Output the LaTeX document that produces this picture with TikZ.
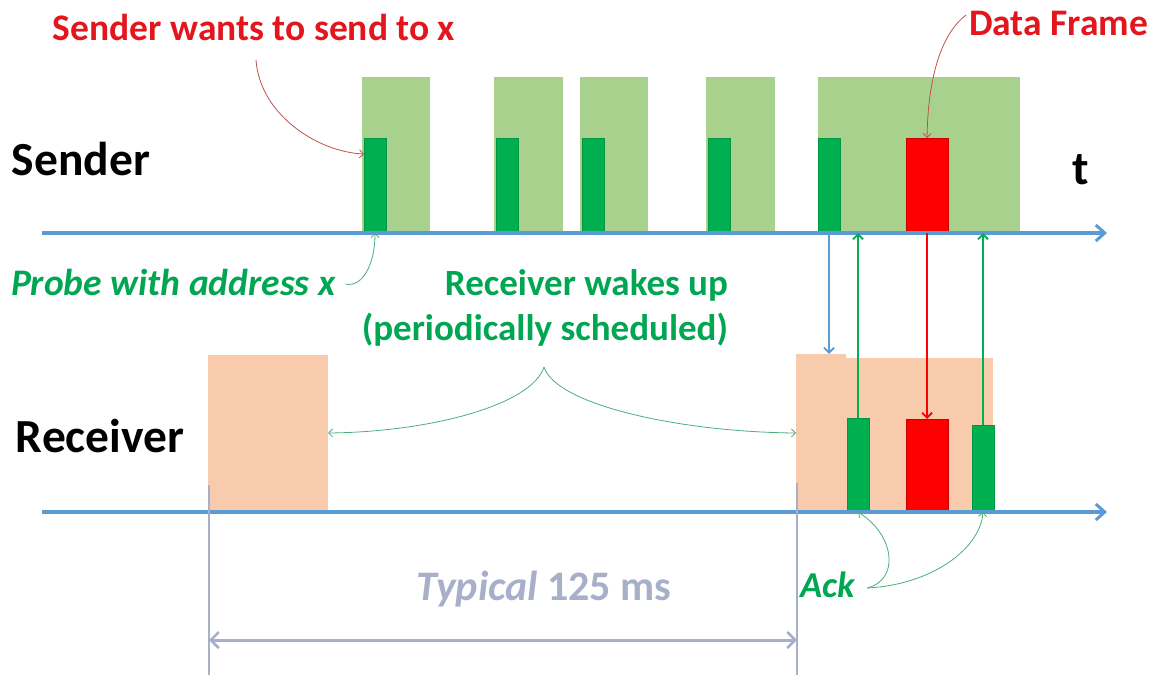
\documentclass[tikz,border=0pt]{standalone}
\usepackage{fontspec}
\setmainfont{Carlito}
\usetikzlibrary{arrows.meta,calc}
\definecolor{lgreen}{HTML}{A9D18E}
\definecolor{dgreen}{HTML}{00B050}
\definecolor{fred}{HTML}{FF0000}
\definecolor{peach}{HTML}{F8CBAD}
\definecolor{axisblue}{HTML}{5B9BD5}
\definecolor{txtred}{HTML}{E3161E}
\definecolor{txtgreen}{HTML}{00A651}
\definecolor{measure}{HTML}{A7AFC9}
\definecolor{redline}{HTML}{C0504D}
\definecolor{greenline}{HTML}{4CAE7C}

\begin{document}
\begin{tikzpicture}[x=1pt,y=-1pt,
  blk/.style={inner sep=0pt,outer sep=0pt,anchor=south west},
  window/.style={blk,fill=lgreen},
  wake/.style={blk,fill=peach},
  probe/.style={blk,fill=dgreen,draw=dgreen!85!black,line width=0.6pt,minimum width=22,minimum height=95},
  frame/.style={blk,fill=fred,draw=fred!80!black,line width=0.6pt,minimum width=42},
  axisline/.style={axisblue,line width=3.5pt,-{Straight Barb[length=9pt,width=16pt,line width=3pt]}},
  sig/.style={line width=2.2pt,-{Straight Barb[length=5pt,width=10pt,line width=1.8pt]}},
  note/.style={line width=0.8pt,-{Straight Barb[length=4pt,width=8pt,line width=0.8pt]}},
  lbl/.style={inner sep=0pt,outer sep=0pt,font=\bfseries},
  title/.style={lbl,anchor=base west,font=\bfseries\fontsize{47.5}{52}\selectfont},
  redtxt/.style={lbl,text=txtred,font=\bfseries\fontsize{37.5}{42}\selectfont},
  greentxt/.style={lbl,text=txtgreen,font=\bfseries\fontsize{37}{45}\selectfont},
  greenit/.style={lbl,text=txtgreen,font=\bfseries\itshape\fontsize{37.5}{42}\selectfont}
]
\useasboundingbox (0,0) rectangle (1155,675);

% sender listening windows
\node[window,minimum width=68,minimum height=156] (w1) at (362,233) {};
\node[window,minimum width=69,minimum height=156] (w2) at (494,233) {};
\node[window,minimum width=68,minimum height=156] (w3) at (580,233) {};
\node[window,minimum width=69,minimum height=156] (w4) at (706,233) {};
\node[window,minimum width=202,minimum height=156] (w5) at (818,233) {};

% probes and data frame sent
\node[probe] (p1) at (364,233) {};
\node[probe] (p2) at (496,233) {};
\node[probe] (p3) at (582,233) {};
\node[probe] (p4) at (708,233) {};
\node[probe] (p5) at (818,233) {};
\node[frame,minimum height=95] (df) at (906,233) {};

% receiver wake-up windows
\node[wake,minimum width=120,minimum height=157] (r1) at (208,512) {};
\node[wake,minimum width=50,minimum height=158] (rw1) at (796,512) {};
\node[wake,minimum width=147,minimum height=154] (rw2) at (846,512) {};

% receiver acks and received frame
\node[probe,minimum height=94] (a1) at (847,512) {};
\node[frame,minimum height=93] (rf) at (906,512) {};
\node[probe,minimum height=87] (a2) at (972,512) {};

% time axes
\coordinate (s0) at (42,233);
\coordinate (s1) at (1107,233);
\coordinate (q0) at (42,512);
\coordinate (q1) at (1107,512);
\draw[axisline] (s0) -- (s1);
\draw[axisline] (q0) -- (q1);

% exchanges between the two nodes
\draw[sig,axisblue] (p5.south) -- (p5.south |- rw1.north);
\draw[sig,dgreen] (a1.north) -- (a1.north |- s0);
\draw[sig,fred] (df.south) -- (rf.north);
\draw[sig,dgreen] (a2.north) -- (a2.north |- s0);

% row titles
\node[title] (snd) at (12,175) {Sender};
\node[title] (rcv) at (16,452) {Receiver};
\node[title] (t) at (1072,184) {t};

% annotations
\node[redtxt,anchor=base] (want) at (254,40) {Sender wants to send to x};
\node[redtxt,anchor=base west] (dfl) at (969,35) {Data Frame};
\node[greenit,anchor=base west] (prb) at (11,295) {Probe with address x};
\node[greentxt,anchor=north east,align=right] (wk) at (728,270) {Receiver wakes up\\(periodically scheduled)};
\node[greenit,anchor=base west,font=\bfseries\itshape\fontsize{36.5}{40}\selectfont] (ack) at (800,597) {Ack};
\node[lbl,anchor=base,text=measure,font=\bfseries\fontsize{42}{46}\selectfont] (typ) at (544,600) {\textit{Typical} 125 ms};

\draw[note,redline] (256,60) .. controls (260,115) and (318,152) .. ($(p1.north west)+(0,16)$);
\draw[note,redline] ($(dfl.west)+(-3,-8)$) .. controls (940,35) and (928,80) .. (df.north);
\draw[note,greenline] ($(prb.east)+(10,2)$) .. controls (362,288) and (375,265) .. (p1.south);

\coordinate (peak) at (544,367);
\draw[note,greenline] (peak) .. controls (532,405) and (430,432) .. (r1.east |- 0,433);
\draw[note,greenline] (peak) .. controls (556,405) and (680,432) .. (rw1.west |- 0,433);

\coordinate (ackend) at (867,588);
\draw[note,greenline] (ackend) .. controls (900,580) and (895,535) .. (a1.south);
\draw[note,greenline] (ackend) .. controls (930,585) and (980,550) .. (a2.south);

% 125 ms span
\coordinate (m0) at (209,485);
\coordinate (m1) at (797,483);
\draw[measure,line width=1.2pt] (m0) -- (m0 |- 0,675);
\draw[measure,line width=1.2pt] (m1) -- (m1 |- 0,675);
\draw[measure,line width=3pt,{Straight Barb[length=8pt,width=16pt,line width=2.5pt]}-{Straight Barb[length=8pt,width=16pt,line width=2.5pt]}] (m0 |- 0,640) -- (m1 |- 0,640);
\end{tikzpicture}
\end{document}
